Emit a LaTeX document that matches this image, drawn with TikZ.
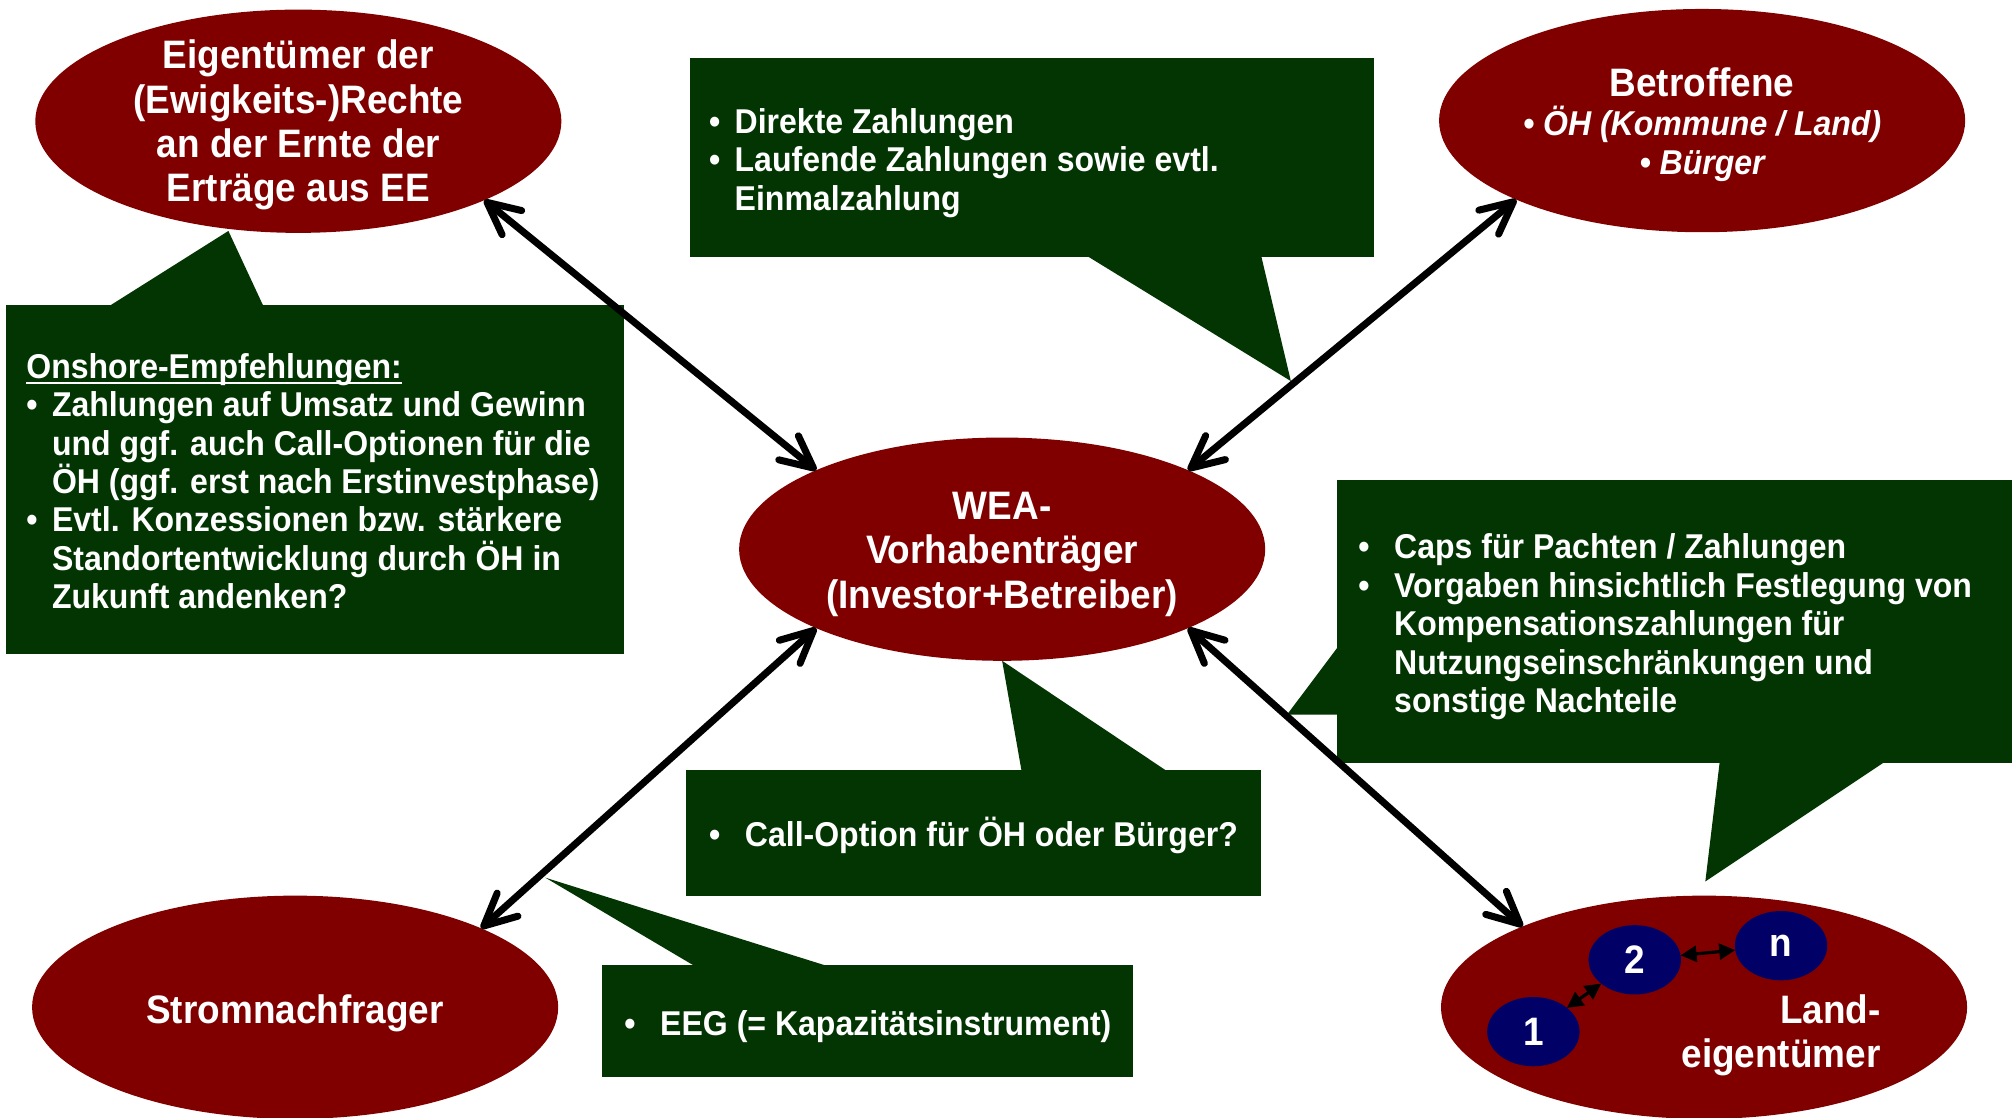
\documentclass[tikz,border=0pt]{standalone}
\usepackage{fontspec}
\setmainfont{Liberation Sans}[FakeStretch=0.93]
\usetikzlibrary{shapes.geometric,arrows.meta}

\definecolor{ered}{RGB}{128,0,0}
\definecolor{cgreen}{RGB}{3,53,3}
\definecolor{eblue}{RGB}{0,0,102}

% one drawing unit
\newcommand\upx{0.012832cm}

% bullet indents (narrow / wide)
\newlength\bwn \setlength\bwn{0.2566cm}
\newlength\bww \setlength\bww{0.3593cm}
\newcommand\itmn{\makebox[\bwn][l]{\textbullet}}
\newcommand\itmw{\makebox[\bww][l]{\textbullet}}
\newcommand\indn{\hspace*{\bwn}}
\newcommand\indw{\hspace*{\bww}}

\newcommand\titlefont{\fontsize{11.3}{12.6}\selectfont\bfseries}
\newcommand\subfont{\fontsize{9.8}{11}\selectfont\bfseries\itshape}
\newcommand\cofont{\fontsize{9.8}{10.95}\selectfont\bfseries}

\tikzset{
  bigell/.style={ellipse, fill=ered, minimum width=410*\upx, minimum height=174*\upx,
    inner sep=0pt, outer sep=0pt},
  ttl/.style={text=white, font=\titlefont, align=center, inner sep=0pt},
  smell/.style={ellipse, fill=eblue, minimum width=72*\upx, minimum height=54*\upx,
    inner sep=0pt, outer sep=0pt, text=white, font=\titlefont},
  cbox/.style={rectangle, fill=cgreen, inner sep=0pt, outer sep=0pt},
  ctext/.style={text=white, font=\cofont, align=left, inner sep=0pt, anchor=west},
  tail/.style={fill=cgreen},
  bigarr/.style={line width=2pt, line cap=round,
    {Straight Barb[length=3.2mm,width=3.1mm,round]}-{Straight Barb[length=3.2mm,width=3.1mm,round]}},
  smarr/.style={line width=0.9pt,
    {Triangle[length=1.6mm,width=1.6mm]}-{Triangle[length=1.6mm,width=1.6mm]}}
}

\begin{document}
\begin{tikzpicture}[x=\upx, y=-\upx]
\fill[white] (0,0) rectangle (1568,871);
\useasboundingbox (0,0) rectangle (1568,871);

% speech-bubble tails (bases reach a little into the boxes)
\fill[tail] (81.2,241) -- (178,180) -- (206.4,241) -- cycle;
\fill[tail] (843.1,197) -- (1006,297) -- (982.3,197) -- cycle;
\fill[tail] (1046,499.7) -- (1003,557) -- (1046,557) -- cycle;
\fill[tail] (1340.4,592) -- (1329,687) -- (1471.5,592) -- cycle;
\fill[tail] (796.5,603) -- (781,515) -- (912.5,603) -- cycle;
\fill[tail] (545,755) -- (425,684) -- (651.6,755) -- cycle;

% speech-bubble boxes
\node[cbox, minimum width=481*\upx, minimum height=272*\upx] (C1) at (245.5,374) {};
\node[cbox, minimum width=533*\upx, minimum height=155*\upx] (C2) at (804.5,122.5) {};
\node[cbox, minimum width=526*\upx, minimum height=221*\upx] (C3) at (1305,484.5) {};
\node[cbox, minimum width=448*\upx, minimum height=98*\upx] (C4) at (759,649) {};
\node[cbox, minimum width=414*\upx, minimum height=87*\upx] (C5) at (676,795.5) {};

\node[ctext] (C1t) at (20,375) {\underline{\raisebox{0pt}[\height][0pt]{Onshore-Empfehlungen:}}\\
\itmn Zahlungen auf Umsatz und Gewinn\\
\indn und ggf. auch Call-Optionen für die\\
\indn ÖH (ggf. erst nach Erstinvestphase)\\
\itmn Evtl. Konzessionen bzw. stärkere\\
\indn Standortentwicklung durch ÖH in\\
\indn Zukunft andenken?};

\node[ctext] (C2t) at (552,127) {\itmn Direkte Zahlungen\\
\itmn Laufende Zahlungen sowie evtl.\\
\indn Einmalzahlung};

\node[ctext] (C3t) at (1058,488.5) {\itmw Caps für Pachten / Zahlungen\\
\itmw Vorgaben hinsichtlich Festlegung von\\
\indw Kompensationszahlungen für\\
\indw Nutzungseinschränkungen und\\
\indw sonstige Nachteile};

\node[ctext] (C4t) at (552,651) {\itmw Call-Option für ÖH oder Bürger?};
\node[ctext] (C5t) at (486,800) {\itmw EEG (= Kapazitätsinstrument)};

% actors
\node[bigell] (E1) at (232.5,94.5) {};
\node[bigell] (E2) at (1326.5,94) {};
\node[bigell] (E3) at (781,428) {};
\node[bigell] (E4) at (230,785) {};
\node[bigell] (E5) at (1328,785) {};

\node[ttl] (E1t) at (232.5,97.5) {Eigentümer der\\(Ewigkeits-)Rechte\\an der Ernte der\\Erträge aus EE};
\node[ttl, font=\fontsize{11.3}{11}\selectfont\bfseries] (E2t) at (1326.5,97)
  {Betroffene\\[0.1pt]{\subfont\textbullet\ ÖH (Kommune / Land)}\\{\subfont\textbullet\ Bürger}};
\node[ttl] (E3t) at (781,432) {WEA-\\Vorhabenträger\\(Investor+Betreiber)};
\node[ttl] (E4t) at (230,790) {Stromnachfrager};
\node[ttl, align=right] (E5t) at (1388,807) {Land-\\eigentümer};

% individual landowners
\node[smell] (B1) at (1195,804) {1};
\node[smell] (B2) at (1274,748) {2};
\node[smell] (Bn) at (1388,737) {n};
\draw[smarr] (B1) -- (B2);
\draw[smarr] (B2) -- (Bn);

% relations to the project developer
\draw[bigarr] (E1.-23) -- (E3.157);
\draw[bigarr] (E2.-157) -- (E3.23);
\draw[bigarr] (E3.-157) -- (E4.23);
\draw[bigarr] (E3.-23) -- (E5.156);
\end{tikzpicture}
\end{document}
